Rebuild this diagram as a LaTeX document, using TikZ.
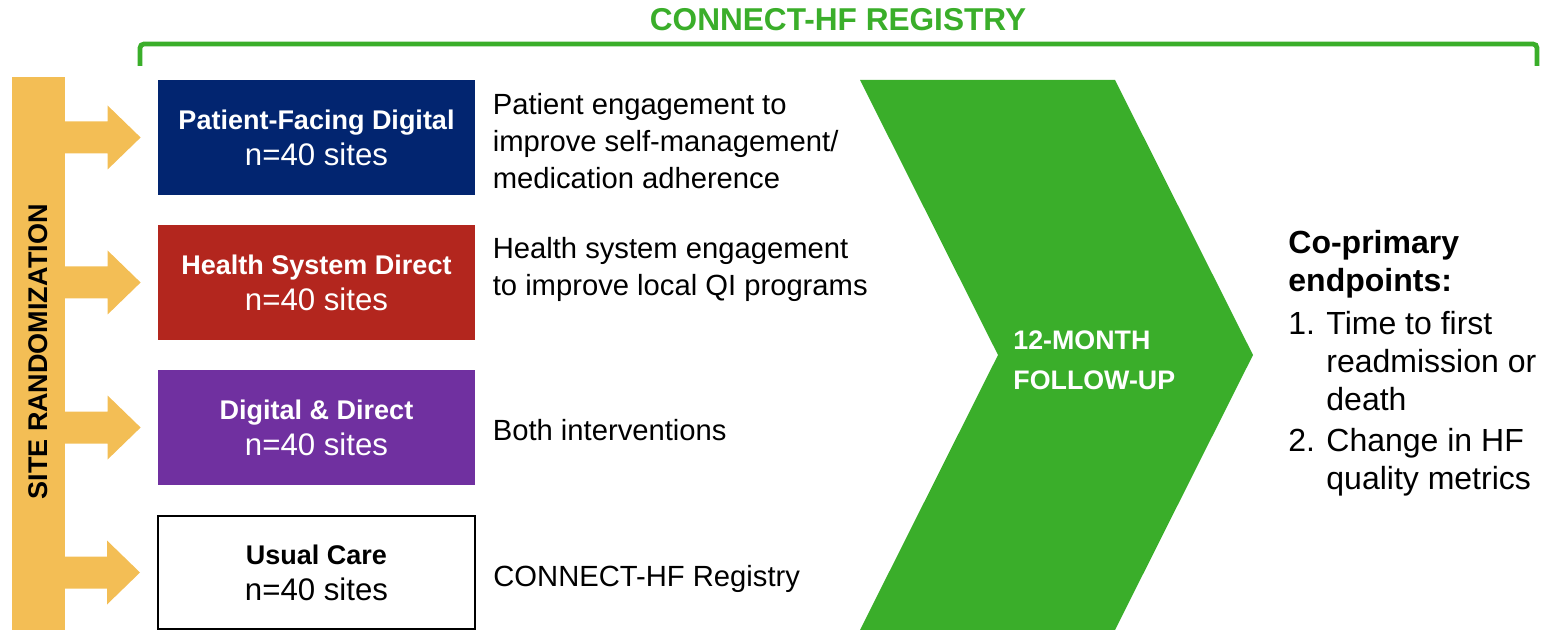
\documentclass[tikz,border=0pt]{standalone}
\usepackage{fontspec}
\setmainfont{Liberation Sans}
\usetikzlibrary{calc,positioning}
\definecolor{randyellow}{HTML}{F3BE55}
\definecolor{digitalblue}{HTML}{022570}
\definecolor{directred}{HTML}{B3261E}
\definecolor{bothpurple}{HTML}{7030A0}
\definecolor{registrygreen}{HTML}{3AAE2A}

\tikzset{
    armbox/.style={minimum width=158.5pt, minimum height=57.5pt, inner sep=0pt,
        align=center, text=white, font=\fontsize{13.5}{18}\selectfont\bfseries},
    armtext/.style={anchor=west, align=left, inner sep=0pt,
        font=\fontsize{14.6}{18.5}\selectfont},
    endtext/.style={anchor=west, align=left, inner sep=0pt,
        font=\fontsize{16}{19}\selectfont}
}
\newcommand{\sites}{\\\fontsize{15.6}{18}\selectfont\mdseries n=40 sites}
\newcommand{\itemno}[1]{\makebox[19pt][l]{#1}}

\begin{document}
\begin{tikzpicture}[x=0.5pt, y=-0.5pt]
    \useasboundingbox (0,0) rectangle (1545,630);

    % registry bracket
    \node[text=registrygreen, font=\fontsize{15.8}{18}\selectfont\bfseries] (registry) at (838,20) {CONNECT-HF REGISTRY};
    \draw[registrygreen, line width=2.4pt, rounded corners=2pt] (140,66) -- (140,44) -- (1537,44) -- (1537,66);

    % study arms
    \node[armbox, fill=digitalblue] (pfd) at (316.5,137.5) {Patient-Facing Digital\sites};
    \node[armbox, fill=directred] (hsd) at (316.5,282.5) {Health System Direct\sites};
    \node[armbox, fill=bothpurple] (dd) at (316.5,427.5) {Digital \& Direct\sites};
    \node[armbox, draw=black, line width=1pt, text=black, minimum height=56.5pt] (uc) at (316.5,572.5) {Usual Care\sites};

    % randomization bar with block arrows
    \fill[randyellow] (12,77) rectangle (65,630);
    \foreach \arm in {pfd,hsd,dd,uc}
        \fill[randyellow, shift={(\arm.west)}] (-95,-16) -- (-50,-16) -- (-50,-32) -- (-17,0)
            -- (-50,32) -- (-50,16) -- (-95,16) -- cycle;
    \node[rotate=90, font=\fontsize{13.5}{16}\selectfont\bfseries] (randlabel) at (38.5,352) {SITE RANDOMIZATION};

    % arm descriptions
    \node[armtext, right=8.5pt of pfd, yshift=-2pt] (pfdtext) {Patient engagement to\\improve self-management/\\medication adherence};
    \node[armtext, right=8.5pt of hsd, yshift=6.5pt] (hsdtext) {Health system engagement\\to improve local QI programs};
    \node[armtext, right=8.5pt of dd, yshift=-1.5pt] (ddtext) {Both interventions};
    \node[armtext, right=8.5pt of uc, yshift=-3pt] (uctext) {CONNECT-HF Registry};

    % follow-up chevron
    \fill[registrygreen] (860,80) -- (1115,80) -- (1253,355) -- (1115,630) -- (860,630) -- (998,355) -- cycle;
    \node[anchor=west, align=left, inner sep=0pt, text=white, font=\fontsize{13.4}{20}\selectfont\bfseries] (followup) at (1013,360) {12-MONTH\\FOLLOW-UP};

    % endpoints
    \node[endtext, font=\fontsize{16}{19}\selectfont\bfseries] (endhead) at (1288,264) {Co-primary\\endpoints:};
    \node[endtext] (endone) at (1288,361) {\itemno{1.}Time to first\\\itemno{}readmission or\\\itemno{}death};
    \node[endtext] (endtwo) at (1288,462) {\itemno{2.}Change in HF\\\itemno{}quality metrics};
\end{tikzpicture}
\end{document}
